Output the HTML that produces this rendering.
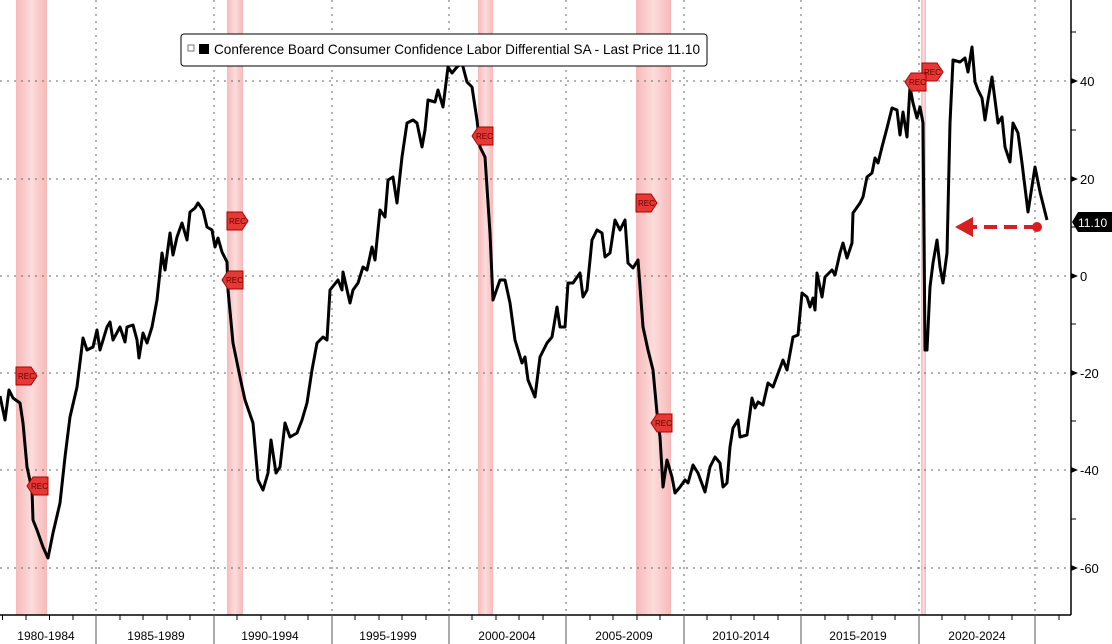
<!DOCTYPE html>
<html><head><meta charset="utf-8"><style>
html,body{margin:0;padding:0;background:#fff;}
svg{display:block;font-family:"Liberation Sans",sans-serif;}
</style></head><body>
<svg width="1112" height="644" viewBox="0 0 1112 644" xmlns="http://www.w3.org/2000/svg">
<defs>
<linearGradient id="bg" x1="0" x2="1" y1="0" y2="0">
<stop offset="0" stop-color="#f7b9b9"/><stop offset="0.5" stop-color="#fbdcdc"/><stop offset="1" stop-color="#f7b9b9"/>
</linearGradient>
</defs>
<rect width="1112" height="644" fill="#fff"/>
<g fill="url(#bg)">
<rect x="16" y="0" width="31" height="615"/>
<rect x="227" y="0" width="16" height="615"/>
<rect x="478" y="0" width="15" height="615"/>
<rect x="636" y="0" width="35" height="615"/>
<rect x="921" y="0" width="5" height="615"/>
</g>
<g stroke="#666" stroke-width="1" stroke-dasharray="2,5">
<line x1="0" x2="1070" y1="81" y2="81"/>
<line x1="0" x2="1070" y1="179" y2="179"/>
<line x1="0" x2="1070" y1="276" y2="276"/>
<line x1="0" x2="1070" y1="373" y2="373"/>
<line x1="0" x2="1070" y1="470" y2="470"/>
<line x1="0" x2="1070" y1="568" y2="568"/>
<line x1="96" x2="96" y1="0" y2="615"/>
<line x1="214" x2="214" y1="0" y2="615"/>
<line x1="332" x2="332" y1="0" y2="615"/>
<line x1="449" x2="449" y1="0" y2="615"/>
<line x1="566" x2="566" y1="0" y2="615"/>
<line x1="684" x2="684" y1="0" y2="615"/>
<line x1="801" x2="801" y1="0" y2="615"/>
<line x1="919" x2="919" y1="0" y2="615"/>
<line x1="1035" x2="1035" y1="0" y2="615"/>
</g>
<line x1="1071" y1="0" x2="1071" y2="615" stroke="#000" stroke-width="1.5"/>
<line x1="0" y1="615" x2="1071" y2="615" stroke="#000" stroke-width="1.5"/>
<g stroke="#555" stroke-width="1">
<line x1="96" x2="96" y1="615" y2="644"/><line x1="214" x2="214" y1="615" y2="644"/>
<line x1="332" x2="332" y1="615" y2="644"/><line x1="449" x2="449" y1="615" y2="644"/>
<line x1="566" x2="566" y1="615" y2="644"/><line x1="684" x2="684" y1="615" y2="644"/>
<line x1="801" x2="801" y1="615" y2="644"/><line x1="919" x2="919" y1="615" y2="644"/>
<line x1="1035" x2="1035" y1="615" y2="644"/>
</g>
<g stroke="#000" stroke-width="1">
<path d="M2.5 615v5M26 615v5M49.5 615v5M73 615v5M120 615v5M143 615v5M167 615v5M190 615v5M237 615v5M261 615v5M285 615v5M308 615v5M355 615v5M379 615v5M402 615v5M426 615v5M472 615v5M496 615v5M519 615v5M543 615v5M590 615v5M613 615v5M637 615v5M660 615v5M707 615v5M731 615v5M754 615v5M778 615v5M825 615v5M848 615v5M872 615v5M895 615v5M942 615v5M965 615v5M989 615v5M1012 615v5M1059 615v5"/>
<path d="M1071 32h5M1071 130h5M1071 227h5M1071 324h5M1071 421h5M1071 519h5"/>
</g>
<g fill="#000">
<path d="M1071 78l7 3l-7 3z"/><path d="M1071 176l7 3l-7 3z"/><path d="M1071 273l7 3l-7 3z"/>
<path d="M1071 370l7 3l-7 3z"/><path d="M1071 467l7 3l-7 3z"/><path d="M1071 565l7 3l-7 3z"/>
</g>
<g font-size="13" fill="#000">
<text x="1080" y="86">40</text><text x="1080" y="184">20</text><text x="1080" y="281">0</text>
<text x="1080" y="378">-20</text><text x="1080" y="475">-40</text><text x="1080" y="573">-60</text>
</g>
<g font-size="12" fill="#000" text-anchor="middle">
<text x="46" y="640">1980-1984</text><text x="156" y="640">1985-1989</text>
<text x="270" y="640">1990-1994</text><text x="388" y="640">1995-1999</text>
<text x="507" y="640">2000-2004</text><text x="624" y="640">2005-2009</text>
<text x="741" y="640">2010-2014</text><text x="858" y="640">2015-2019</text>
<text x="977" y="640">2020-2024</text>
</g>
<polyline fill="none" stroke="#000" stroke-width="3" stroke-linejoin="round" points="0,396 5,420 9,390 13,398 20,403 23,423 27,467 32,490 33,520 37,530 43,547 48,558 53,533 60,503 65,457 70,417 77,387 83,338 87,350 93,347 97,330 100,350 107,327 110,322 113,340 120,327 125,342 127,327 133,325 137,340 139,358 143,333 147,343 152,327 157,300 162,253 165,270 170,233 173,255 177,237 182,223 187,240 190,212 195,208 198,203 203,210 207,227 212,230 215,247 218,238 222,252 227,262 228,290 233,343 240,377 245,400 253,423 258,480 263,490 268,473 271,440 276,473 280,467 285,423 290,437 297,433 302,420 307,403 312,370 317,343 323,337 327,340 330,290 338,280 342,290 343,272 350,303 353,290 358,283 363,267 367,270 372,247 375,260 380,210 385,217 388,180 393,177 397,203 402,157 407,123 413,120 417,123 422,147 425,130 428,100 435,102 438,90 443,107 448,67 452,73 457,67 462,63 467,82 472,87 477,120 480,147 485,157 490,233 493,300 500,280 505,280 510,303 515,340 522,363 525,357 528,380 535,397 540,357 547,343 552,337 557,307 560,327 565,327 568,283 573,283 580,273 583,297 587,290 592,240 597,230 602,233 605,257 610,253 615,220 620,230 625,220 628,263 633,268 638,260 643,327 648,350 653,370 657,413 660,437 663,487 667,460 672,477 675,493 680,487 685,480 688,483 693,465 698,473 705,492 710,467 715,457 720,463 723,487 727,483 730,447 733,428 738,420 740,437 747,435 752,398 755,408 758,402 763,405 768,383 773,387 783,360 787,370 793,337 798,335 802,293 807,297 810,307 813,298 815,310 817,273 822,297 825,277 832,270 835,275 840,253 843,243 847,258 852,243 853,213 860,203 863,197 867,177 872,173 875,158 878,163 882,147 887,128 892,108 897,110 900,135 903,112 907,137 910,87 913,103 917,118 920,107 923,123 925,350 927,350 930,287 933,263 937,240 940,267 943,283 947,253 950,123 953,60 960,62 965,58 968,72 972,47 975,82 978,90 982,98 985,120 988,100 992,77 995,100 998,123 1002,117 1005,147 1010,162 1013,123 1018,133 1022,163 1028,212 1035,167 1040,192 1047,220"/>
<g fill="#e53935" stroke="#a00" stroke-width="1">
<path d="M16 367h15l6 9l-6 9h-15z"/>
<path d="M48 477h-15l-6 9l6 9h15z"/>
<path d="M227 212h15l6 9l-6 9h-15z"/>
<path d="M243 271h-15l-6 9l6 9h15z"/>
<path d="M478 50h15l6 8l-6 8h-15z"/>
<path d="M493 127h-15l-6 9l6 9h15z"/>
<path d="M636 194h15l6 9l-6 9h-15z"/>
<path d="M672 414h-15l-6 9l6 9h15z"/>
<path d="M922 63h15l6 9l-6 9h-15z"/>
<path d="M926 73h-15l-6 9l6 9h15z"/>
</g>
<g fill="#600" font-size="8">
<text x="18" y="379">REC</text><text x="31" y="489">REC</text>
<text x="229" y="224">REC</text><text x="226" y="283">REC</text>
<text x="476" y="139">REC</text><text x="638" y="206">REC</text>
<text x="655" y="426">REC</text><text x="924" y="75">REC</text><text x="909" y="85">REC</text>
</g>
<rect x="181" y="34" width="526" height="32" rx="3" fill="#fff" stroke="#000" stroke-width="1"/>
<rect x="188" y="45" width="6" height="6" fill="#fff" stroke="#555" stroke-width="0.8"/>
<rect x="199" y="44" width="10" height="10" fill="#000"/>
<text x="214" y="54" font-size="13.6" fill="#000" textLength="486" lengthAdjust="spacingAndGlyphs">Conference Board Consumer Confidence Labor Differential SA - Last Price 11.10</text>
<line x1="1037" y1="227" x2="972" y2="227" stroke="#d62020" stroke-width="4" stroke-dasharray="13,7"/>
<path d="M955 227l18 -10v20z" fill="#d62020"/>
<circle cx="1037" cy="227" r="5" fill="#d62020"/>
<path d="M1072 222l6 -10h34v20h-34z" fill="#000"/>
<text x="1078" y="227" font-size="12" fill="#fff">11.10</text>
</svg>
</body></html>
